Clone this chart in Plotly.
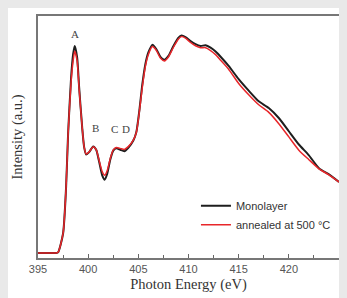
import plotly.graph_objects as go

energy = [395.0, 396.0, 396.8, 397.0, 397.5, 397.8, 398.0, 398.3, 398.5, 398.66, 398.9, 399.1,
          399.4, 399.6, 399.8, 400.1, 400.5, 400.8, 401.1, 401.4, 401.65, 401.9, 402.2, 402.5,
          402.8, 403.2, 403.6, 404.0, 404.5, 404.8, 405.1, 405.4, 405.7, 406.0, 406.4, 406.8,
          407.2, 407.6, 408.0, 408.5, 409.0, 409.3, 409.7, 410.2, 410.7, 411.2, 411.7, 412.2,
          412.7, 413.2, 414.0, 415.0, 416.0, 417.0, 418.0, 419.0, 420.0, 421.0, 422.0, 423.0,
          424.0, 425.0]

monolayer = [0, 0, 0, 0.3, 9.0, 30.4, 54.9, 80.9, 91.6, 95.4, 90.1, 76.3,
             58.0, 48.8, 45.4, 46.5, 49.1, 47.6, 41.9, 35.8, 33.8, 36.5, 43.0, 47.2,
             48.3, 47.6, 46.9, 48.5, 51.8, 55.7, 65.6, 77.8, 87.0, 92.4, 95.9, 93.9,
             90.4, 89.0, 90.8, 95.4, 99.2, 100.2, 99.5, 97.7, 96.2, 95.4, 95.7, 94.6,
             92.8, 90.4, 86.2, 80.1, 74.8, 69.9, 66.8, 62.2, 56.1, 50.0, 45.0, 39.1,
             36.2, 32.7]

annealed = [0, 0, 0, 0.3, 9.0, 30.4, 54.9, 79.0, 88.5, 93.1, 88.5, 75.5,
            58.0, 48.8, 45.6, 46.6, 49.0, 47.6, 42.5, 37.5, 35.8, 38.0, 43.5, 47.5,
            48.6, 48.2, 47.7, 49.0, 52.0, 55.5, 65.0, 76.5, 86.0, 91.5, 95.1, 93.3,
            89.8, 88.5, 90.3, 94.8, 98.6, 99.7, 99.0, 97.0, 95.5, 94.6, 94.6, 93.3,
            91.4, 88.8, 84.7, 78.1, 72.9, 68.3, 64.8, 59.6, 53.5, 47.4, 43.0, 38.8,
            36.0, 32.7]

peak_labels = ["A", "B", "C", "D"]
peak_x = [398.66, 400.74, 402.6, 403.8]
peak_y = [101.0, 57.5, 57.2, 57.2]

tick_vals = [395, 400, 405, 410, 415, 420, 425]
tick_text = ["395", "400", "405", "410", "415", "420", "425"]

fig = go.Figure()
fig.add_trace(go.Scatter(x=energy, y=monolayer, mode="lines", name="Monolayer",
                         line=dict(color="#1e1e1e", width=2, shape="spline", smoothing=0.6)))
fig.add_trace(go.Scatter(x=energy, y=annealed, mode="lines", name="annealed at 500 °C",
                         line=dict(color="#e8262a", width=1.5, shape="spline", smoothing=0.6)))

for lab, xv, yv in zip(peak_labels, peak_x, peak_y):
    fig.add_annotation(x=xv, y=yv, text=lab, showarrow=False,
                       font=dict(family="Liberation Serif", size=11, color="#444"))

W, H = 339, 290
L, R, T, B = 30, 6, 7, 40
pw, ph = W - L - R, H - T - B

fig.update_layout(
    width=W, height=H,
    margin=dict(l=L, r=R, t=T, b=B),
    paper_bgcolor="white",
    plot_bgcolor="white",
    showlegend=True,
    legend=dict(x=(189 - L) / pw, y=(250 - 183) / ph, xanchor="left", yanchor="top",
                bgcolor="rgba(0,0,0,0)", font=dict(family="Liberation Sans", size=11, color="#333"),
                itemwidth=30, tracegroupgap=0),
    xaxis=dict(range=[395, 425], tickvals=tick_vals, ticktext=tick_text, ticks="inside",
               ticklen=4, tickcolor="#666", showline=True, linecolor="#777", linewidth=1.5,
               mirror=True, showgrid=False, zeroline=False,
               tickfont=dict(family="Liberation Sans", size=11, color="#555"),
               minor=dict(dtick=2.5, tick0=395, ticks="inside", ticklen=3, tickcolor="#666"),
               title=dict(text="Photon Energy (eV)", standoff=5,
                          font=dict(family="Liberation Serif", size=14.5, color="#333"))),
    yaxis=dict(range=[-2.3, 109.2], showticklabels=False, ticks="", showline=True,
               linecolor="#777", linewidth=1.5, mirror=True, showgrid=False, zeroline=False,
               title=dict(text="Intensity (a.u.)", standoff=10,
                          font=dict(family="Liberation Serif", size=14.5, color="#333"))),
)

fig.write_html("out.html", post_script="document.body.style.background='#e9e9e9';")
